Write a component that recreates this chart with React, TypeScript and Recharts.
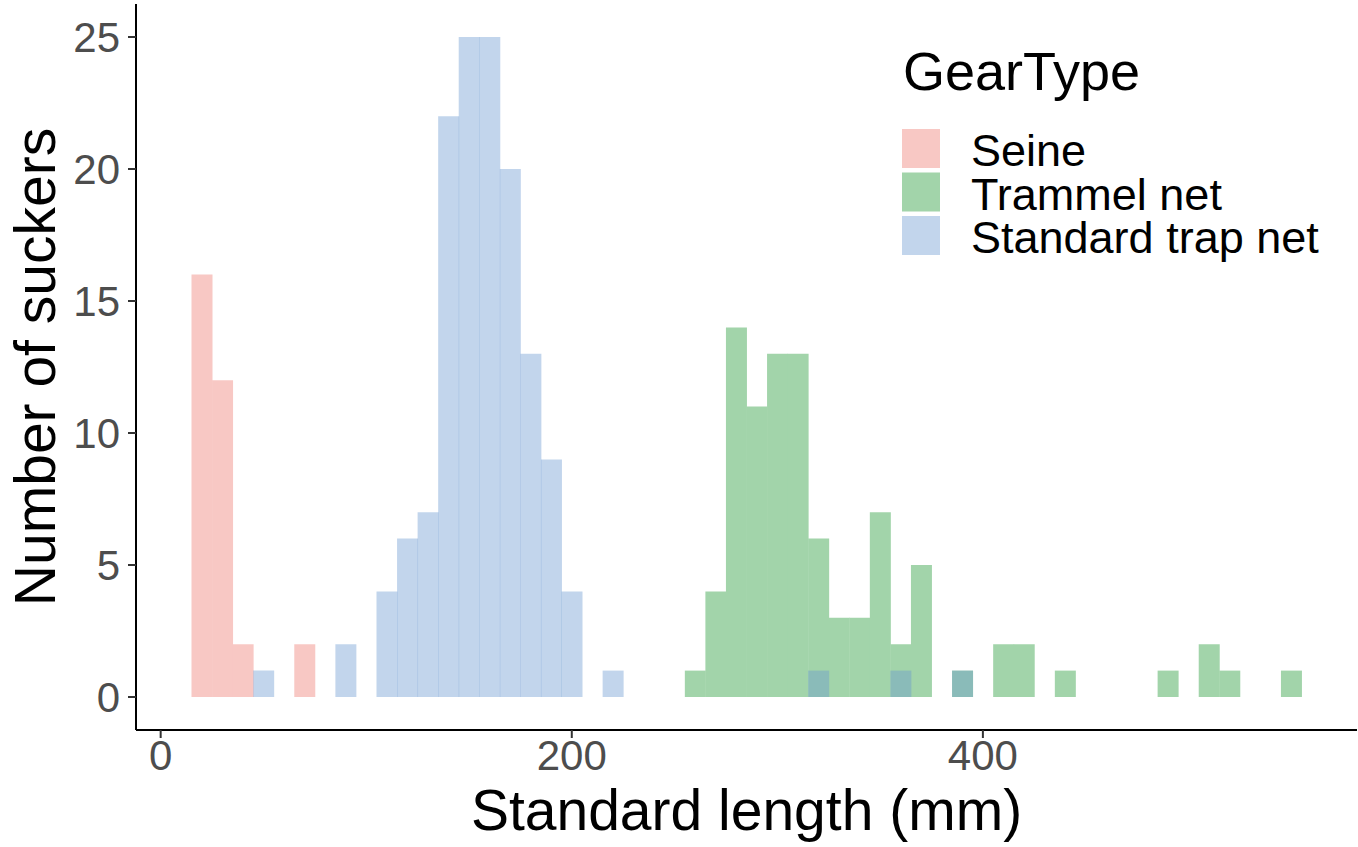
import React from "react";
import { BarChart, Bar, XAxis, YAxis, Legend } from "recharts";

// Histogram counts (binwidth 10 mm, bins centred on multiples of 10)
const SEINE_BINS = [20, 30, 40, 70];
const SEINE_COUNTS = [16, 12, 2, 2];

const TRAMMEL_BINS = [
  260, 270, 280, 290, 300, 310, 320, 330, 340, 350, 360, 370, 390, 410, 420,
  440, 490, 510, 520, 550,
];
const TRAMMEL_COUNTS = [1, 4, 14, 11, 13, 13, 6, 3, 3, 7, 2, 5, 1, 2, 2, 1, 1, 2, 1, 1];

const TRAP_BINS = [50, 90, 110, 120, 130, 140, 150, 160, 170, 180, 190, 200, 220, 320, 360, 390];
const TRAP_COUNTS = [1, 2, 4, 6, 7, 22, 25, 25, 20, 13, 9, 4, 1, 1, 1, 1];

const X_TICKS = [0, 200, 400];
const Y_TICKS = [0, 5, 10, 15, 20, 25];

const FONT = '"Liberation Sans", Arial, Helvetica, sans-serif';

// poradie = poradie kreslenia (modrá ide navrch)
const SERIES = [
  { key: "seine", name: "Seine", fill: "#f8c8c4", opacity: 1 },
  { key: "trammel", name: "Trammel net", fill: "#a2d4aa", opacity: 1 },
  { key: "trap", name: "Standard trap net", fill: "#6696d0", opacity: 0.4 },
];

function pick(bins: number[], counts: number[], b: number) {
  const i = bins.indexOf(b);
  return i >= 0 ? counts[i] : null;
}

const allBins = Array.from(new Set([...SEINE_BINS, ...TRAMMEL_BINS, ...TRAP_BINS])).sort(
  (a, b) => a - b
);

const chartData = allBins.map((b) => ({
  length: b,
  seine: pick(SEINE_BINS, SEINE_COUNTS, b),
  trammel: pick(TRAMMEL_BINS, TRAMMEL_COUNTS, b),
  trap: pick(TRAP_BINS, TRAP_COUNTS, b),
}));

function XTick(props: any) {
  const { x, y, payload } = props;
  return (
    <text x={x} y={y + 30} textAnchor="middle" fontSize={42} fill="#4d4d4d" fontFamily={FONT}>
      {payload.value}
    </text>
  );
}

function YTick(props: any) {
  const { x, y, payload } = props;
  return (
    <text x={x - 6} y={y + 15} textAnchor="end" fontSize={42} fill="#4d4d4d" fontFamily={FONT}>
      {payload.value}
    </text>
  );
}

function XTitle(props: any) {
  const vb = props.viewBox;
  return (
    <text
      x={vb.x + vb.width / 2}
      y={vb.y + 100}
      textAnchor="middle"
      fontSize={57}
      fill="#000"
      fontFamily={FONT}
    >
      Standard length (mm)
    </text>
  );
}

function YTitle(props: any) {
  const vb = props.viewBox;
  const cx = 55;
  const cy = vb.y + vb.height / 2;
  return (
    <text
      x={cx}
      y={cy}
      transform={`rotate(-90, ${cx}, ${cy})`}
      textAnchor="middle"
      fontSize={57}
      fill="#000"
      fontFamily={FONT}
    >
      Number of suckers
    </text>
  );
}

function GearLegend() {
  return (
    <svg width={470} height={230} style={{ display: "block" }}>
      <text x={23} y={50} fontSize={54} fill="#000" fontFamily={FONT}>
        GearType
      </text>
      {SERIES.map((s, i) => (
        <g key={s.key}>
          <rect x={22} y={89 + i * 43.5} width={38} height={39} fill={s.fill} fillOpacity={s.opacity} />
          <text x={91} y={126 + i * 43.5} fontSize={45} fill="#000" fontFamily={FONT}>
            {s.name}
          </text>
        </g>
      ))}
    </svg>
  );
}

export default function App() {
  return (
    <div style={{ position: "absolute", left: 0, top: 0, background: "#fff" }}>
      <BarChart
        width={1358}
        height={847}
        data={chartData}
        margin={{ top: 4, right: 1, bottom: 0, left: 0 }}
        barCategoryGap={0}
        barGap={0}
      >
        <XAxis
          xAxisId={0}
          dataKey="length"
          type="number"
          domain={[-12, 582]}
          allowDataOverflow
          ticks={X_TICKS}
          height={117}
          tickSize={8}
          axisLine={{ stroke: "#000", strokeWidth: 2 }}
          tickLine={{ stroke: "#333", strokeWidth: 2 }}
          tick={<XTick />}
          label={XTitle}
        />
        <XAxis xAxisId={1} dataKey="length" type="number" domain={[-12, 582]} allowDataOverflow hide />
        <XAxis xAxisId={2} dataKey="length" type="number" domain={[-12, 582]} allowDataOverflow hide />
        <YAxis
          type="number"
          domain={[-1.25, 26.25]}
          allowDataOverflow
          ticks={Y_TICKS}
          width={136}
          tickSize={8}
          axisLine={{ stroke: "#000", strokeWidth: 2 }}
          tickLine={{ stroke: "#333", strokeWidth: 2 }}
          tick={<YTick />}
          label={YTitle}
        />
        <Legend
          layout="vertical"
          align="center"
          verticalAlign="middle"
          content={<GearLegend />}
          wrapperStyle={{ left: 880, top: 40, width: 470, height: 230 }}
        />
        {SERIES.map((s, i) => (
          <Bar
            key={s.key}
            xAxisId={i}
            dataKey={s.key}
            name={s.name}
            fill={s.fill}
            fillOpacity={s.opacity}
            isAnimationActive={false}
          />
        ))}
      </BarChart>
    </div>
  );
}
